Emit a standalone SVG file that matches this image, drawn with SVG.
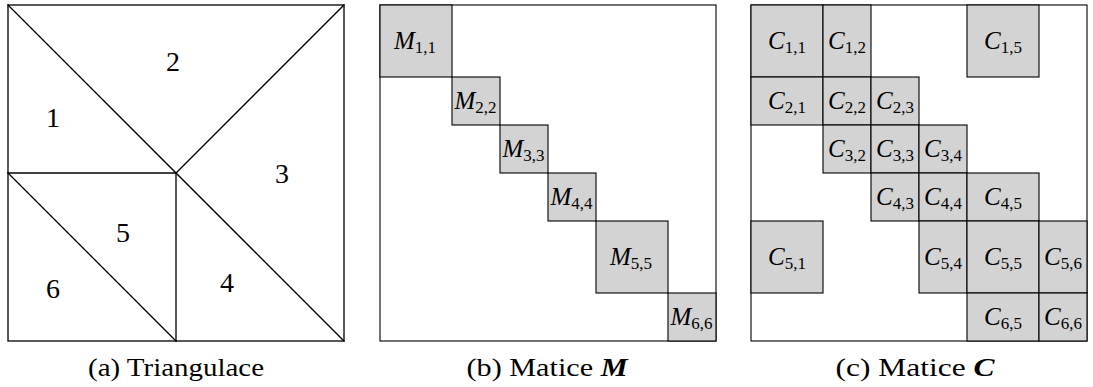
<svg xmlns="http://www.w3.org/2000/svg" width="1093" height="387" viewBox="0 0 1093 387">
<style>
  .edge { stroke: #000; stroke-width: 1.3; fill: none; stroke-linecap: square; }
  .frame { fill: #fff; stroke: #000; stroke-width: 1.1; }
  .blk { fill: #d3d3d3; stroke: #000; stroke-width: 1.1; }
  text { font-family: 'Liberation Serif', 'Times New Roman', 'DejaVu Serif', serif; fill: #000; text-anchor: middle; }
  .num { font-size: 28px; }
  .lbl { font-size: 25px; }
  .lbl .v { font-style: italic; }
  .lbl .s { font-size: 17px; }
  .cap { font-size: 26px; }
  .cap .b { font-weight: bold; font-style: italic; }
</style>
<rect x="0" y="0" width="1093" height="387" fill="#fff"/>

<!-- Panel (a): triangulation -->
<g id="triangulation">
  <g id="mesh-edges">
    <rect class="edge" x="8" y="5" width="336" height="336"/>
    <line class="edge" x1="8" y1="5" x2="344" y2="341"/>
    <line class="edge" x1="344" y1="5" x2="176" y2="173"/>
    <line class="edge" x1="8" y1="173" x2="176" y2="173"/>
    <line class="edge" x1="176" y1="173" x2="176" y2="341"/>
    <line class="edge" x1="8" y1="173" x2="176" y2="341"/>
  </g>
  <g id="tri-1"><text class="num" x="53" y="127">1</text></g>
  <g id="tri-2"><text class="num" x="173" y="71">2</text></g>
  <g id="tri-3"><text class="num" x="282" y="183">3</text></g>
  <g id="tri-4"><text class="num" x="227" y="292">4</text></g>
  <g id="tri-5"><text class="num" x="123" y="242">5</text></g>
  <g id="tri-6"><text class="num" x="53" y="298">6</text></g>
  <text class="cap" x="176" y="376" textLength="176" lengthAdjust="spacingAndGlyphs">(a) Triangulace</text>
</g>

<!-- Panel (b): matrix M -->
<g id="matrix-M">
  <rect class="frame" x="380" y="5" width="336" height="336"/>
  <g id="M11"><rect class="blk" x="380" y="5" width="72" height="72"/><text class="lbl" x="415" y="49"><tspan class="v">M</tspan><tspan class="s" dy="3.5">1,1</tspan></text></g>
  <g id="M22"><rect class="blk" x="452" y="77" width="48" height="48"/><text class="lbl" x="475.5" y="109"><tspan class="v">M</tspan><tspan class="s" dy="3.5">2,2</tspan></text></g>
  <g id="M33"><rect class="blk" x="500" y="125" width="48" height="48"/><text class="lbl" x="523.5" y="157"><tspan class="v">M</tspan><tspan class="s" dy="3.5">3,3</tspan></text></g>
  <g id="M44"><rect class="blk" x="548" y="173" width="48" height="48"/><text class="lbl" x="571.5" y="205"><tspan class="v">M</tspan><tspan class="s" dy="3.5">4,4</tspan></text></g>
  <g id="M55"><rect class="blk" x="596" y="221" width="72" height="72"/><text class="lbl" x="631" y="265"><tspan class="v">M</tspan><tspan class="s" dy="3.5">5,5</tspan></text></g>
  <g id="M66"><rect class="blk" x="668" y="293" width="48" height="48"/><text class="lbl" x="691.5" y="325"><tspan class="v">M</tspan><tspan class="s" dy="3.5">6,6</tspan></text></g>
  <text class="cap" x="547" y="376" textLength="161" lengthAdjust="spacingAndGlyphs">(b) Matice <tspan class="b">M</tspan></text>
</g>

<!-- Panel (c): matrix C -->
<g id="matrix-C">
  <rect class="frame" x="751" y="5" width="336" height="336"/>
  <g id="C11"><rect class="blk" x="751" y="5" width="72" height="72"/><text class="lbl" x="787" y="49"><tspan class="v">C</tspan><tspan class="s" dy="3.5">1,1</tspan></text></g>
  <g id="C12"><rect class="blk" x="823" y="5" width="48" height="72"/><text class="lbl" x="847" y="49"><tspan class="v">C</tspan><tspan class="s" dy="3.5">1,2</tspan></text></g>
  <g id="C15"><rect class="blk" x="967" y="5" width="72" height="72"/><text class="lbl" x="1003" y="49"><tspan class="v">C</tspan><tspan class="s" dy="3.5">1,5</tspan></text></g>
  <g id="C21"><rect class="blk" x="751" y="77" width="72" height="48"/><text class="lbl" x="787" y="109"><tspan class="v">C</tspan><tspan class="s" dy="3.5">2,1</tspan></text></g>
  <g id="C22"><rect class="blk" x="823" y="77" width="48" height="48"/><text class="lbl" x="847" y="109"><tspan class="v">C</tspan><tspan class="s" dy="3.5">2,2</tspan></text></g>
  <g id="C23"><rect class="blk" x="871" y="77" width="48" height="48"/><text class="lbl" x="895" y="109"><tspan class="v">C</tspan><tspan class="s" dy="3.5">2,3</tspan></text></g>
  <g id="C32"><rect class="blk" x="823" y="125" width="48" height="48"/><text class="lbl" x="847" y="157"><tspan class="v">C</tspan><tspan class="s" dy="3.5">3,2</tspan></text></g>
  <g id="C33"><rect class="blk" x="871" y="125" width="48" height="48"/><text class="lbl" x="895" y="157"><tspan class="v">C</tspan><tspan class="s" dy="3.5">3,3</tspan></text></g>
  <g id="C34"><rect class="blk" x="919" y="125" width="48" height="48"/><text class="lbl" x="943" y="157"><tspan class="v">C</tspan><tspan class="s" dy="3.5">3,4</tspan></text></g>
  <g id="C43"><rect class="blk" x="871" y="173" width="48" height="48"/><text class="lbl" x="895" y="205"><tspan class="v">C</tspan><tspan class="s" dy="3.5">4,3</tspan></text></g>
  <g id="C44"><rect class="blk" x="919" y="173" width="48" height="48"/><text class="lbl" x="943" y="205"><tspan class="v">C</tspan><tspan class="s" dy="3.5">4,4</tspan></text></g>
  <g id="C45"><rect class="blk" x="967" y="173" width="72" height="48"/><text class="lbl" x="1003" y="205"><tspan class="v">C</tspan><tspan class="s" dy="3.5">4,5</tspan></text></g>
  <g id="C51"><rect class="blk" x="751" y="221" width="72" height="72"/><text class="lbl" x="787" y="265"><tspan class="v">C</tspan><tspan class="s" dy="3.5">5,1</tspan></text></g>
  <g id="C54"><rect class="blk" x="919" y="221" width="48" height="72"/><text class="lbl" x="943" y="265"><tspan class="v">C</tspan><tspan class="s" dy="3.5">5,4</tspan></text></g>
  <g id="C55"><rect class="blk" x="967" y="221" width="72" height="72"/><text class="lbl" x="1003" y="265"><tspan class="v">C</tspan><tspan class="s" dy="3.5">5,5</tspan></text></g>
  <g id="C56"><rect class="blk" x="1039" y="221" width="48" height="72"/><text class="lbl" x="1063" y="265"><tspan class="v">C</tspan><tspan class="s" dy="3.5">5,6</tspan></text></g>
  <g id="C65"><rect class="blk" x="967" y="293" width="72" height="48"/><text class="lbl" x="1003" y="325"><tspan class="v">C</tspan><tspan class="s" dy="3.5">6,5</tspan></text></g>
  <g id="C66"><rect class="blk" x="1039" y="293" width="48" height="48"/><text class="lbl" x="1063" y="325"><tspan class="v">C</tspan><tspan class="s" dy="3.5">6,6</tspan></text></g>
  <text class="cap" x="915" y="376" textLength="159" lengthAdjust="spacingAndGlyphs">(c) Matice <tspan class="b">C</tspan></text>
</g>
</svg>
